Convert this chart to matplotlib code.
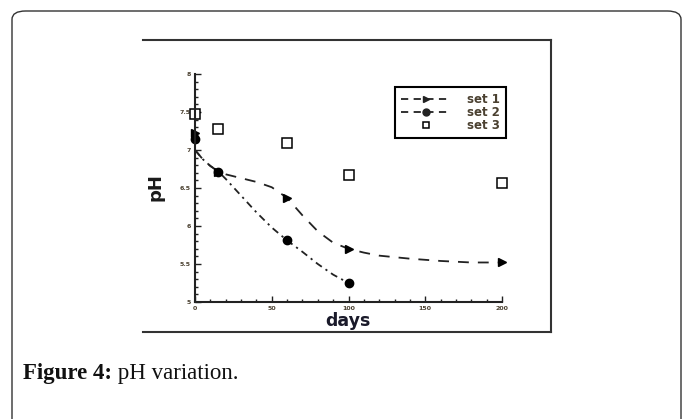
import matplotlib
matplotlib.use("Agg")
import matplotlib.pyplot as plt
from matplotlib.lines import Line2D
from matplotlib.patches import FancyBboxPatch

# measured points
days = [0, 15, 60, 100, 200]
set1 = [7.23, 6.71, 6.37, 5.70, 5.52]
days2 = [0, 15, 60, 100]
set2 = [7.14, 6.71, 5.81, 5.25]
set3 = [7.48, 7.28, 7.09, 6.67, 6.57]

# smoothed trend curves
curve_x1 = [0, 5, 10, 15, 20, 30, 40, 50, 60, 70, 80, 90, 100, 110, 120, 140, 160, 180, 200]
curve_y1 = [7.0, 6.88, 6.79, 6.72, 6.68, 6.63, 6.58, 6.51, 6.37, 6.14, 5.93, 5.78, 5.70,
            5.65, 5.61, 5.57, 5.54, 5.52, 5.52]
curve_x2 = [0, 5, 10, 15, 20, 30, 40, 50, 60, 70, 80, 90, 100]
curve_y2 = [7.0, 6.88, 6.79, 6.72, 6.62, 6.40, 6.18, 5.98, 5.81, 5.66, 5.50, 5.36, 5.25]

xticks = [0, 50, 100, 150, 200]
yticks = [5, 5.5, 6, 6.5, 7, 7.5, 8]
ytick_labels = ['5', '5.5', '6', '6.5', '7', '7.5', '8']

W, H = 683, 419
fig = plt.figure(figsize=(W / 100, H / 100), dpi=100)
ax = fig.add_axes([195 / W, 1 - 302 / H, 307 / W, 228 / H])

dark = '#222222'
ax.plot(curve_x1, curve_y1, color=dark, lw=1.3, dashes=(6, 5))
ax.plot(curve_x2, curve_y2, color=dark, lw=1.3, dashes=(4, 2.5, 1.2, 2.5))
ax.plot(days, set1, ls='none', marker='>', ms=6, color='black', clip_on=False)
ax.plot(days2, set2, ls='none', marker='o', ms=6, color='black', clip_on=False)
ax.plot(days, set3, ls='none', marker='s', ms=6.5, mfc='white', mec='black', mew=1.1,
        clip_on=False)

ax.set_xlim(0, 200)
ax.set_ylim(5, 8)
ax.set_xticks(xticks)
ax.set_xticks(range(0, 201, 10), minor=True)
ax.set_yticks(yticks)
ax.set_yticklabels(ytick_labels)
ax.set_yticks([5 + 0.1 * i for i in range(31)], minor=True)
ax.tick_params(which='both', direction='in', width=1, color=dark,
               labelsize=4.5, labelcolor='#4a4030', pad=3)
ax.tick_params(which='major', length=4)
ax.tick_params(which='minor', length=2.5)
for lab in ax.get_xticklabels() + ax.get_yticklabels():
    lab.set_fontweight('bold')
for s in ['top', 'right']:
    ax.spines[s].set_visible(False)
for s in ['left', 'bottom']:
    ax.spines[s].set_linewidth(1.5)
    ax.spines[s].set_color(dark)

ax.set_ylabel('pH', fontsize=13, fontweight='bold', color='#1a1a1a')
ax.yaxis.set_label_coords(-0.098, 0.504)
ax.set_xlabel('days', fontsize=12.5, fontweight='bold', color='#1a1a2a')
ax.xaxis.set_label_coords(0.498, -0.044)

handles = [
    Line2D([], [], color=dark, lw=1.3, dashes=(4, 3), marker='>', ms=5),
    Line2D([], [], color=dark, lw=1.3, dashes=(4, 3), marker='o', ms=5),
    Line2D([], [], ls='none', marker='s', ms=5, mfc='white', mec='black', mew=1.1),
]
leg = ax.legend(handles, ['set 1', 'set 2', 'set 3'], loc='upper left',
                bbox_to_anchor=(0.652, 0.943), borderaxespad=0, fancybox=False,
                framealpha=1, edgecolor='black', numpoints=1, handlelength=4.2,
                labelspacing=0.0, borderpad=0.5, handletextpad=1.4,
                prop={'size': 8.5, 'weight': 'bold'})
leg.get_frame().set_linewidth(1.5)
for t in leg.get_texts():
    t.set_color('#4a4030')

# outer rounded page box and figure frame
fig.patches.append(FancyBboxPatch((12 / W, -0.1), (669 / W), 1 - 11 / H + 0.1,
                                  boxstyle='round,pad=0,rounding_size=0.02',
                                  transform=fig.transFigure, fill=False,
                                  ec='#333333', lw=1.0))
fy = lambda y: 1 - y / H
fig.add_artist(Line2D([143 / W, 551 / W], [fy(40), fy(40)], color='#333333', lw=1.5))
fig.add_artist(Line2D([551 / W, 551 / W], [fy(40), fy(332)], color='#333333', lw=1.5))
fig.add_artist(Line2D([143 / W, 551 / W], [fy(332), fy(332)], color='#333333', lw=1.5))

t1 = fig.text(23 / W, fy(379), 'Figure 4:', fontsize=16.5, fontweight='bold',
              family='Liberation Serif', color='#111111', va='baseline')
ax.annotate(' pH variation.', xy=(1, 0), xycoords=t1, va='bottom', ha='left',
            fontsize=16.5, family='Liberation Serif', color='#111111',
            annotation_clip=False)

fig.savefig('out.png', dpi=100)
